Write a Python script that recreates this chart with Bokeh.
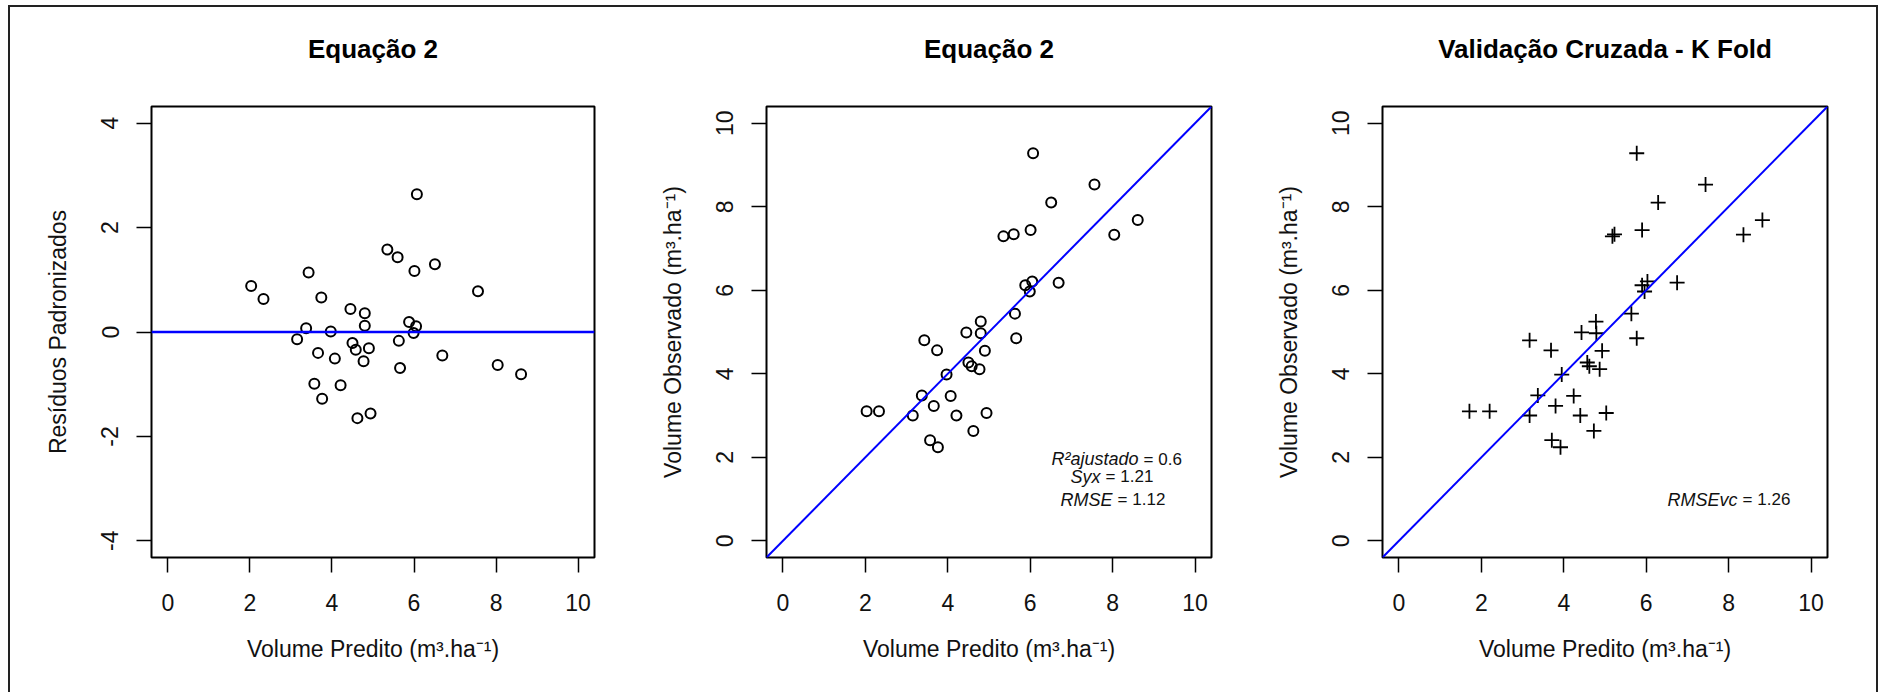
from bokeh.plotting import figure
from bokeh.layouts import row
from bokeh.models import Label, Span, Slope, FixedTicker, Range1d
from bokeh.embed import file_html
from bokeh.resources import INLINE

# ---- data ----
predito = [2.03, 2.33, 3.15, 3.37, 3.43, 3.74, 3.66, 3.57, 3.76, 3.97,
           4.07, 4.21, 4.45, 4.50, 4.58, 4.62, 4.77, 4.80, 4.80, 4.90,
           4.94, 5.35, 5.60, 5.63, 5.66, 5.88, 5.99, 6.01, 6.05, 6.07,
           6.51, 6.69, 7.56, 8.04, 8.61]
observado = [3.10, 3.10, 3.00, 3.48, 4.80, 4.56, 3.23, 2.41, 2.24, 3.98,
             3.47, 3.00, 4.99, 4.27, 4.18, 2.63, 4.11, 5.25, 4.97, 4.55,
             3.06, 7.29, 7.34, 5.44, 4.85, 6.12, 5.97, 7.44, 6.21, 9.28,
             8.10, 6.18, 8.53, 7.33, 7.68]
residuos = [0.88, 0.63, -0.14, 0.07, 1.14, 0.66, -0.40, -0.99, -1.28, 0.01,
            -0.51, -1.02, 0.44, -0.21, -0.34, -1.65, -0.56, 0.36, 0.12, -0.31,
            -1.56, 1.58, 1.43, -0.17, -0.69, 0.19, -0.02, 1.17, 0.11, 2.64,
            1.30, -0.45, 0.78, -0.63, -0.81]
predito_cv = [1.71, 2.20, 3.17, 3.37, 3.17, 3.69, 3.80, 3.71, 3.92, 3.95,
              4.24, 4.40, 4.43, 4.57, 4.62, 4.73, 4.87, 4.78, 4.79, 4.93,
              5.03, 5.18, 5.23, 5.64, 5.77, 5.90, 5.96, 5.90, 6.03, 5.77,
              6.29, 6.75, 7.44, 8.36, 8.82]

ticks_x = [0, 2, 4, 6, 8, 10]
ticks_res = [-4, -2, 0, 2, 4]
ticks_obs = [0, 2, 4, 6, 8, 10]

titulos = ["Equação 2", "Equação 2", "Validação Cruzada - K Fold"]
xlabel = "Volume Predito (m³.ha⁻¹)"
ylabels = ["Resíduos Padronizados", "Volume Observado (m³.ha⁻¹)", "Volume Observado (m³.ha⁻¹)"]

FONT = "Liberation Sans"
TXT = "#111111"


def make_fig(idx, width, left, right, yr, yticks):
    p = figure(width=width, height=685, x_range=Range1d(-0.4, 10.4), y_range=yr,
               output_backend="svg", toolbar_location=None,
               min_border_left=left, min_border_right=right,
               min_border_top=99, min_border_bottom=135,
               title=titulos[idx] + "\n")
    p.title.align = "center"
    p.title.text_font = FONT
    p.title.text_font_size = "26px"
    p.title.text_font_style = "bold"
    p.title.text_color = "#000000"
    p.title.standoff = 26
    p.xgrid.visible = False
    p.ygrid.visible = False
    p.outline_line_color = "black"
    p.outline_line_width = 2
    p.outline_line_alpha = 1
    p.background_fill_color = "white"
    p.border_fill_color = "white"

    for ax in (p.xaxis[0], p.yaxis[0]):
        ax.axis_line_color = None
        ax.major_tick_line_color = "black"
        ax.major_tick_line_width = 1.5
        ax.major_tick_out = 15
        ax.major_tick_in = 0
        ax.minor_tick_line_color = None
        ax.major_label_text_font = FONT
        ax.major_label_text_font_size = "23px"
        ax.major_label_text_color = TXT
        ax.axis_label_text_font = FONT
        ax.axis_label_text_font_size = "23px"
        ax.axis_label_text_font_style = "normal"
        ax.axis_label_text_color = TXT

    p.xaxis.ticker = FixedTicker(ticks=ticks_x)
    p.xaxis.axis_label = xlabel
    p.xaxis.major_label_standoff = 21
    p.xaxis.axis_label_standoff = 22

    p.yaxis.ticker = FixedTicker(ticks=yticks)
    p.yaxis.major_label_overrides = {t: str(t) for t in yticks}
    p.yaxis.axis_label = ylabels[idx]
    p.yaxis.major_label_orientation = "vertical"
    p.yaxis.major_label_standoff = 18
    p.yaxis.axis_label_standoff = 28
    return p


# Panel 1: residuals
p1 = make_fig(0, 620, 141, 36, Range1d(-4.32, 4.32), ticks_res)
p1.add_layout(Span(location=0, dimension="width", line_color="#0000FF", line_width=2.5))
p1.scatter(predito, residuos, marker="circle", size=10, fill_color=None,
           line_color="black", line_width=2)

# Panel 2: observed vs predicted
p2 = make_fig(1, 616, 136, 35, Range1d(-0.4, 10.4), ticks_obs)
p2.add_layout(Slope(gradient=1, y_intercept=0, line_color="#0000FF", line_width=2))
p2.scatter(predito, observado, marker="circle", size=10, fill_color=None,
           line_color="black", line_width=2)

stats = [
    ("R²ajustado", "= 0.6", 1.95, 26, 31),
    ("Syx", "= 1.21", 1.53, -12, -7),
    ("RMSE", "= 1.12", 0.98, 0, 5),
]
for ital, up, yy, off_i, off_u in stats:
    p2.add_layout(Label(x=8.0, y=yy, text=ital, x_offset=off_i, text_align="right",
                        text_baseline="middle", text_font=FONT, text_font_size="18px",
                        text_font_style="italic", text_color=TXT))
    p2.add_layout(Label(x=8.0, y=yy, text=up, x_offset=off_u, text_align="left",
                        text_baseline="middle", text_font=FONT, text_font_size="17px",
                        text_color=TXT))

# Panel 3: cross validation
p3 = make_fig(2, 630, 136, 49, Range1d(-0.4, 10.4), ticks_obs)
p3.add_layout(Slope(gradient=1, y_intercept=0, line_color="#0000FF", line_width=2))
p3.scatter(predito_cv, observado, marker="cross", size=15, line_color="black", line_width=1.8)
p3.add_layout(Label(x=8.0, y=0.98, text="RMSEvc", x_offset=9, text_align="right",
                    text_baseline="middle", text_font=FONT, text_font_size="18px",
                    text_font_style="italic", text_color=TXT))
p3.add_layout(Label(x=8.0, y=0.98, text="= 1.26", x_offset=14, text_align="left",
                    text_baseline="middle", text_font=FONT, text_font_size="17px",
                    text_color=TXT))

layout = row(p1, p2, p3, styles={
    "margin-left": "8px", "margin-top": "5px",
    "border-left": "2px solid #222", "border-top": "2px solid #222",
    "border-right": "2px solid #222",
})

open("out.html", "w").write(file_html(layout, INLINE))
